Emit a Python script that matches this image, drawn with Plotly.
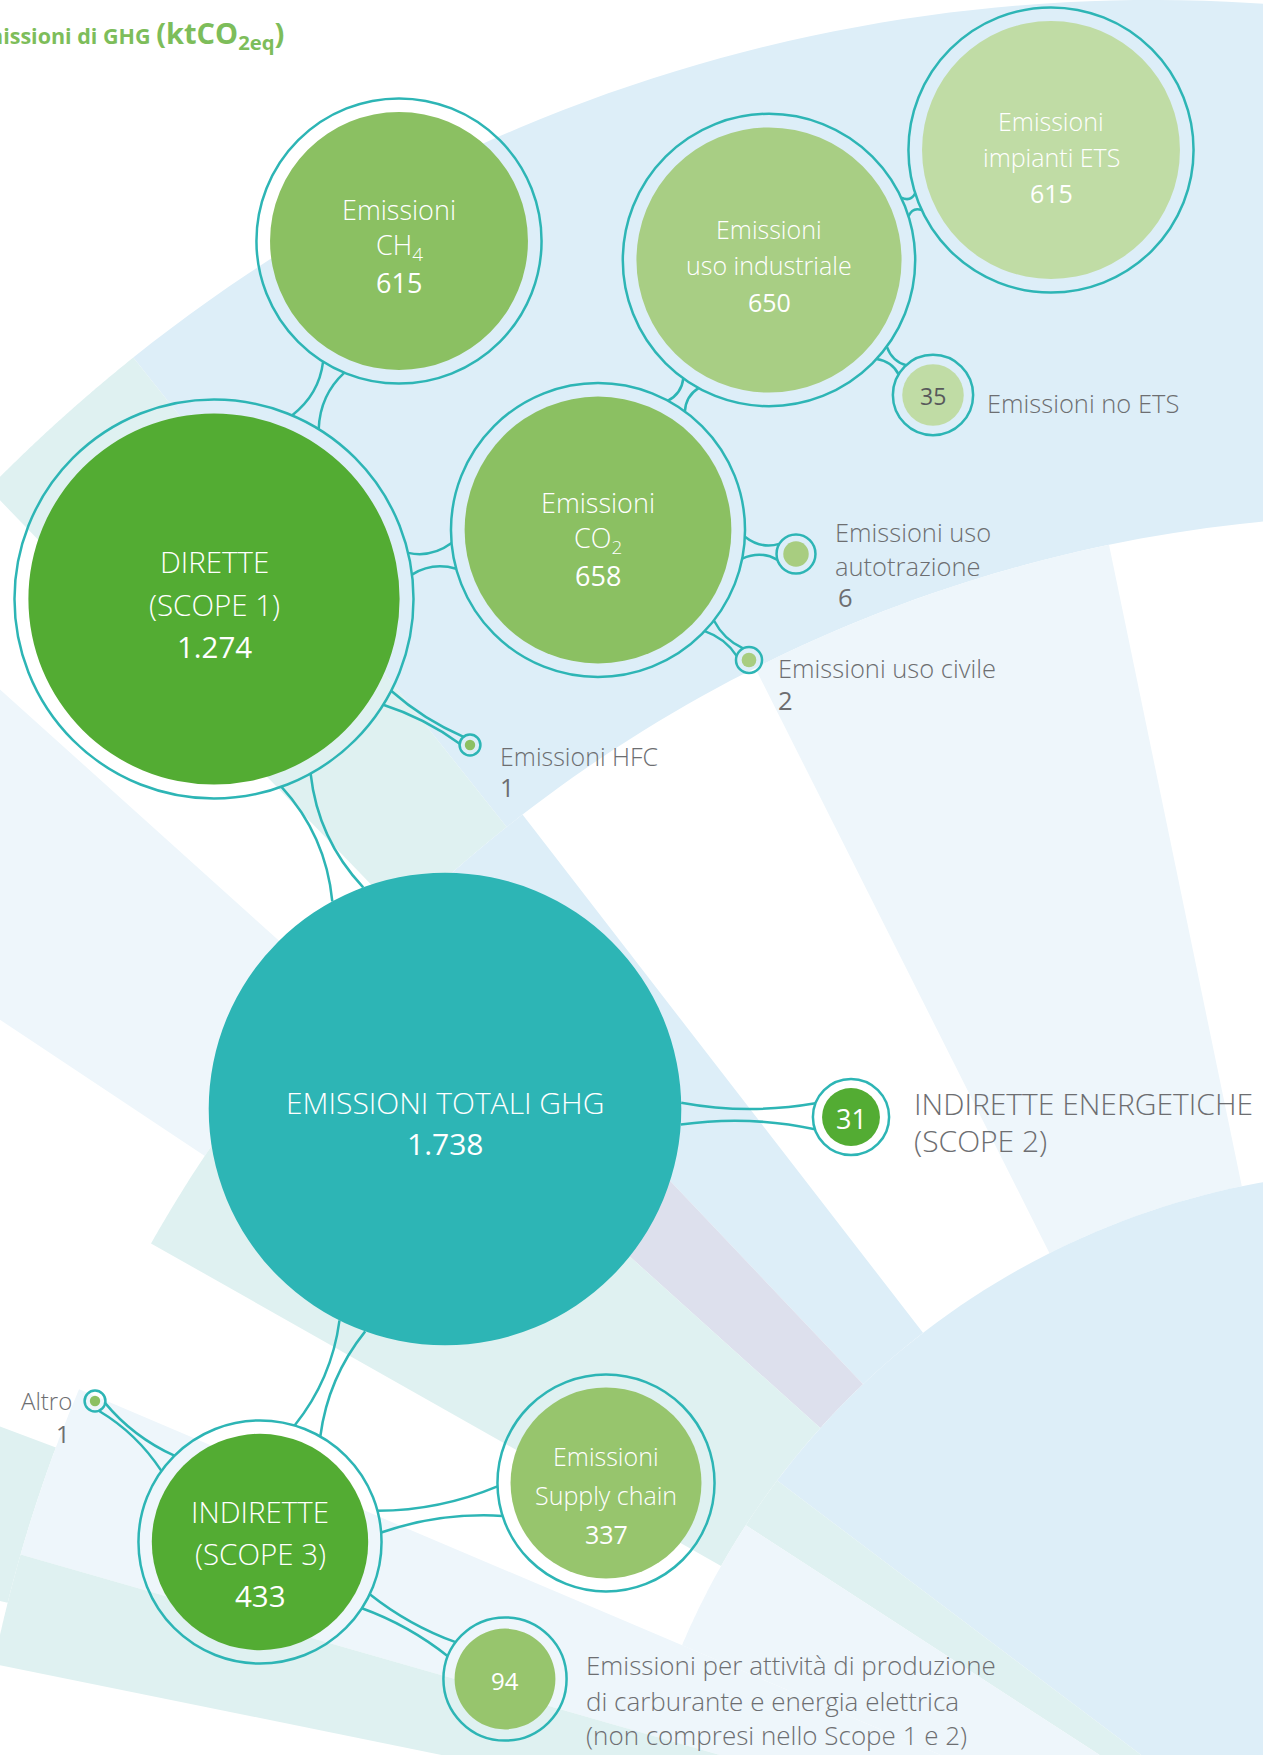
import math
import plotly.graph_objects as go

W, H = 1263, 1755

# ---- data: GHG emissions tree (ktCO2eq) ----
node_ids = ["tot", "s1", "ch4", "co2", "ind", "ets", "noets", "auto", "civ",
            "hfc", "s2", "s3", "sup", "prod", "altro"]
parent_ids = [None, "tot", "s1", "s1", "co2", "ind", "ind", "co2", "co2",
              "s1", "tot", "tot", "s3", "s3", "s3"]
values = [1738, 1274, 615, 658, 650, 615, 35, 6, 2, 1, 31, 433, 337, 94, 1]
labels = [
    "EMISSIONI TOTALI GHG",
    "DIRETTE<br>(SCOPE 1)",
    "Emissioni<br>CH<sub>4</sub>",
    "Emissioni<br>CO<sub>2</sub>",
    "Emissioni<br>uso industriale",
    "Emissioni<br>impianti ETS",
    "Emissioni no ETS",
    "Emissioni uso<br>autotrazione",
    "Emissioni uso civile",
    "Emissioni HFC",
    "INDIRETTE ENERGETICHE<br>(SCOPE 2)",
    "INDIRETTE<br>(SCOPE 3)",
    "Emissioni<br>Supply chain",
    "Emissioni per attività di produzione<br>di carburante e energia elettrica<br>(non compresi nello Scope 1 e 2)",
    "Altro",
]
title_text = "Emissioni di GHG"
unit_text = "(ktCO<sub>2eq</sub>)"

# ---- layout / style (pixel positions of bubble centres, label boxes) ----
TEAL = "#2db5b5"
GRAY = "#6d6e71"
GREEN = "#53ac33"
BLUE = "#ddeef8"
CYAN = "#dff1f1"
PALE = "#eef6fb"
LILAC = "#dde0ed"
FONT = "Open Sans"

K = 5.2          # radius = K * sqrt(value)
ROOT_BOOST = 1.09

pos = {"tot": (445, 1109), "s1": (214, 599), "ch4": (399, 241), "co2": (598, 530),
       "ind": (769, 260), "ets": (1051, 150), "noets": (933, 395), "auto": (796, 554),
       "civ": (749, 660), "hfc": (470, 745), "s2": (851, 1117), "s3": (260, 1542),
       "sup": (606, 1483), "prod": (505, 1679), "altro": (95, 1401)}
fills = {"tot": TEAL, "s1": GREEN, "ch4": "#8bc062", "co2": "#8bc062", "ind": "#a8ce84",
         "ets": "#c0dca5", "noets": "#c0dca5", "auto": "#a8cd80", "civ": "#a8cd80",
         "hfc": "#8cc063", "s2": GREEN, "s3": GREEN, "sup": "#97c56d", "prod": "#97c56d",
         "altro": "#8cc063"}
# connector half widths: at parent ring, at child ring, in the neck
necks = {"s1": (17, 16, 6), "ch4": (15, 12, 7), "co2": (11, 13, 7), "hfc": (8, 4, 2.5),
         "ind": (10, 9, 6), "ets": (10, 9, 6), "noets": (8, 6, 3.5), "auto": (11, 8, 5),
         "civ": (7, 5, 2.5), "s2": (11, 13, 6), "s3": (14, 14, 6), "sup": (11, 15, 7),
         "prod": (8, 8, 4), "altro": (10, 5, 2.5)}
# font size, vertical shift, line gap for labels inside bubbles
text_in = {"tot": (30, 14, 41), "s1": (29.5, 5, 42.5), "ch4": (27, 5, 36.5),
           "co2": (27, 9, 36.5), "ind": (25, 5, 36.5), "ets": (25, 7, 36),
           "s3": (29.5, 11, 42), "sup": (25, 12, 39)}
text_out = {
    "noets": dict(x=985, ys=[403], size=25.5, val="in", vsize=23, vcolor="#58595b"),
    "s2": dict(x=912, ys=[1103, 1140], size=30, val="in", vsize=27, vcolor="white"),
    "prod": dict(x=584, ys=[1665, 1701, 1735], size=26, val="in", vsize=24, vcolor="white"),
    "auto": dict(x=833, ys=[532, 566], size=25.5, val=(836, 597)),
    "civ": dict(x=776, ys=[668], size=25.5, val=(776, 700)),
    "hfc": dict(x=498, ys=[756], size=25, val=(498, 787)),
    "altro": dict(x=74, ys=[1400], size=24, val=(72, 1433), anchor="right"),
}


def fmt(v):
    return f"{v:,}".replace(",", ".")


val = dict(zip(node_ids, values))
lab = dict(zip(node_ids, labels))
rad = {n: K * math.sqrt(v) * (ROOT_BOOST if p is None else 1)
       for n, v, p in zip(node_ids, values, parent_ids)}


def gap(r):
    return 4 + 10 * (1 - math.exp(-r / 40))


outer = {n: (rad[n] if n == "tot" else rad[n] + gap(rad[n])) for n in node_ids}

shapes = []

# ---- background rays / arcs ----
C = (1400, 1950)
R_IN = 1435
OC = (1152, 1630)
R_OUT = 1630


def t_out(th):
    dx, dy = math.cos(th), -math.sin(th)
    Dx, Dy = C[0] - OC[0], C[1] - OC[1]
    b = Dx * dx + Dy * dy
    return -b + math.sqrt(b * b - (Dx * Dx + Dy * Dy) + R_OUT ** 2)


def sector(a1, a2, r1, r2, color, n=80):
    pts = []
    for i in range(n + 1):
        th = math.radians(a1 + (a2 - a1) * i / n)
        pts.append((C[0] + r1 * math.cos(th), C[1] - r1 * math.sin(th)))
    for i in range(n + 1):
        th = math.radians(a2 + (a1 - a2) * i / n)
        r = t_out(th) if r2 is None else r2
        pts.append((C[0] + r * math.cos(th), C[1] - r * math.sin(th)))
    path = "M " + " L ".join(f"{x:.1f},{y:.1f}" for x, y in pts) + " Z"
    shapes.append(dict(type="path", path=path, fillcolor=color, line_width=0,
                       layer="below", xref="x", yref="y"))


# outer band
sector(75, 128.5, R_IN, None, BLUE)
sector(128.5, 134, R_IN, None, CYAN)
sector(138, 146.4, R_IN, None, PALE)
sector(159.5, 166, R_IN, None, CYAN)
# inner rays
sector(101.7, 116.7, 780, R_IN, PALE)
sector(127.7, 133.5, 780, R_IN, BLUE)
sector(133.5, 138, 780, R_IN, LILAC)
sector(138, 150.5, 780, R_IN, CYAN)
sector(157, 164, 0, R_IN, PALE)
sector(164, 168.5, 0, R_IN, CYAN)
# big disc bottom right
sector(60, 143, 0, 780, BLUE)
sector(143, 147, 0, 780, CYAN)
sector(147, 157, 0, 780, PALE)

# ---- connectors ----
for n, p in zip(node_ids, parent_ids):
    if p is None:
        continue
    wa, wb, wm = necks[n]
    (ax, ay), ra = pos[p], outer[p]
    (bx, by), rb = pos[n], outer[n]
    d = math.hypot(bx - ax, by - ay)
    ux, uy = (bx - ax) / d, (by - ay) / d
    nx, ny = -uy, ux
    ta = math.sqrt(ra * ra - wa * wa)
    tb = d - math.sqrt(rb * rb - wb * wb)
    tm = (ta + tb) / 2
    wc = 2 * wm - 0.5 * (wa + wb)
    for s in (1, -1):
        p0 = (ax + ta * ux + s * wa * nx, ay + ta * uy + s * wa * ny)
        p2 = (ax + tb * ux + s * wb * nx, ay + tb * uy + s * wb * ny)
        pc = (ax + tm * ux + s * wc * nx, ay + tm * uy + s * wc * ny)
        path = f"M {p0[0]:.1f},{p0[1]:.1f} Q {pc[0]:.1f},{pc[1]:.1f} {p2[0]:.1f},{p2[1]:.1f}"
        shapes.append(dict(type="path", path=path, line=dict(color=TEAL, width=2.5),
                           layer="below", xref="x", yref="y"))

# ---- bubbles ----
for n in node_ids:
    cx, cy = pos[n]
    r = rad[n]
    shapes.append(dict(type="circle", x0=cx - r, x1=cx + r, y0=cy - r, y1=cy + r,
                       fillcolor=fills[n], line_width=0, layer="below",
                       xref="x", yref="y"))
    if n != "tot":
        ro = outer[n]
        shapes.append(dict(type="circle", x0=cx - ro, x1=cx + ro, y0=cy - ro, y1=cy + ro,
                           line=dict(color=TEAL, width=2.5), layer="below",
                           xref="x", yref="y"))

# ---- texts ----
ann = []


def add_text(x, y, text, size, color, weight=300, anchor="center"):
    ann.append(dict(x=x, y=y, xref="x", yref="y", text=text, showarrow=False,
                    xanchor=anchor, yanchor="middle",
                    font=dict(family=FONT, size=size, color=color, weight=weight)))


for n in node_ids:
    cx, cy = pos[n]
    if n in text_in:
        size, dy, g = text_in[n]
        lines = lab[n].split("<br>") + [fmt(val[n])]
        for i, line in enumerate(lines):
            y = cy + dy + (i - (len(lines) - 1) / 2) * g
            last = i == len(lines) - 1
            add_text(cx, y, line, size, "white", 500 if last else 300)
    else:
        o = text_out[n]
        anchor = o.get("anchor", "left")
        for line, y in zip(lab[n].split("<br>"), o["ys"]):
            add_text(o["x"], y, line, o["size"], GRAY, 300, anchor)
        if o["val"] == "in":
            add_text(cx, cy + 1, fmt(val[n]), o["vsize"], o["vcolor"], 400)
        else:
            vx, vy = o["val"]
            add_text(vx, vy, fmt(val[n]), o["size"], GRAY, 400, anchor)

# title is cropped on the left in the original layout
ann.append(dict(x=286, y=34, xref="x", yref="y", showarrow=False, xanchor="right",
                yanchor="middle",
                text=f"{title_text} <span style='font-size:29px'>{unit_text}</span>",
                font=dict(family=FONT, size=21.5, color="#7dbd5a", weight=700)))

fig = go.Figure()
fig.add_trace(go.Scatter(
    x=[pos[n][0] for n in node_ids], y=[pos[n][1] for n in node_ids],
    mode="markers", marker=dict(size=[2 * rad[n] for n in node_ids], opacity=0),
    hovertext=[f"{lab[n].replace('<br>', ' ')}: {fmt(val[n])}" for n in node_ids],
    hoverinfo="text", showlegend=False))

fig.update_layout(
    width=W, height=H, margin=dict(l=0, r=0, t=0, b=0),
    paper_bgcolor="white", plot_bgcolor="white",
    xaxis=dict(range=[0, W], visible=False, fixedrange=True),
    yaxis=dict(range=[H, 0], visible=False, fixedrange=True),
    shapes=shapes, annotations=ann, showlegend=False,
)

fig.write_html("out.html", config={"displayModeBar": False},
               post_script="document.body.style.margin='0';")
